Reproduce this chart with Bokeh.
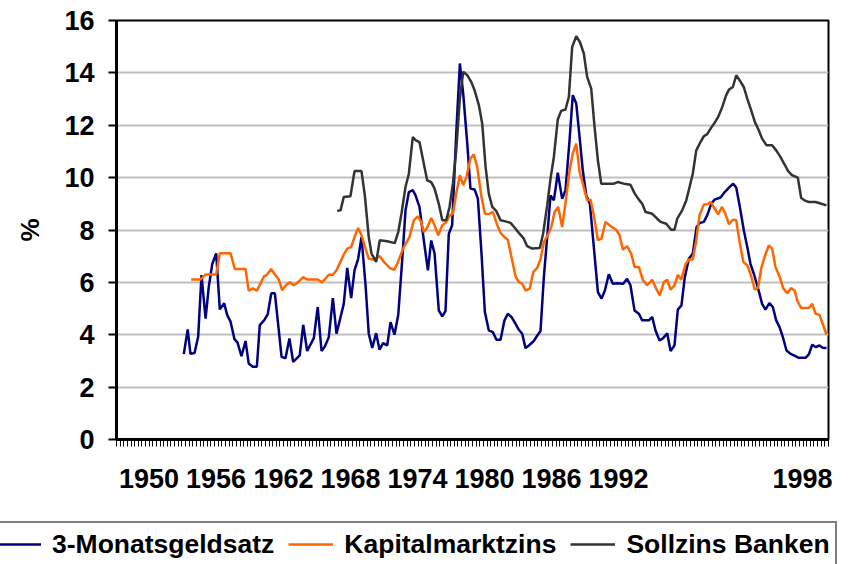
from bokeh.plotting import figure
from bokeh.models import Legend, LegendItem, FixedTicker, Range1d
from bokeh.embed import file_html
from bokeh.resources import INLINE

# ---------------- data ----------------
geld_jahr = [1954.63, 1954.9, 1955.09, 1955.37, 1955.62, 1955.85, 1956.13, 1956.35, 1956.59, 1956.86,
             1957.11, 1957.41, 1957.62, 1957.85, 1958.12, 1958.33, 1958.6, 1958.88, 1959.1, 1959.38,
             1959.66, 1959.86, 1960.17, 1960.41, 1960.65, 1960.9, 1961.36, 1961.63, 1961.9, 1962.16,
             1962.61, 1962.85, 1963.12, 1963.58, 1963.85, 1964.11, 1964.34, 1964.61, 1964.89, 1965.14,
             1965.64, 1965.88, 1966.15, 1966.38, 1966.63, 1966.86, 1967.14, 1967.36, 1967.6, 1967.87,
             1968.1, 1968.35, 1968.63, 1968.86, 1969.13, 1969.39, 1969.66, 1969.89, 1970.12, 1970.39,
             1970.58, 1970.85, 1971.15, 1971.43, 1971.66, 1971.89, 1972.18, 1972.42, 1972.64, 1972.87,
             1973.1, 1973.38, 1973.63, 1973.86, 1974.14, 1974.36, 1974.64, 1974.87, 1975.12, 1975.35,
             1975.62, 1975.9, 1976.15, 1976.43, 1976.7, 1976.93, 1977.18, 1977.46, 1977.69, 1977.92,
             1978.15, 1978.38, 1978.72, 1978.96, 1979.18, 1979.41, 1979.64, 1979.87, 1980.1, 1980.37,
             1980.67, 1980.9, 1981.18, 1981.4, 1981.64, 1981.87, 1982.09, 1982.33, 1982.58, 1982.85,
             1983.13, 1983.38, 1983.61, 1983.88, 1984.16, 1984.46, 1984.87, 1985.14, 1985.37, 1985.65,
             1985.95, 1986.18, 1986.64, 1986.87, 1987.09, 1987.37, 1987.62, 1987.9, 1988.13, 1988.4,
             1988.63, 1988.88, 1989.11, 1989.39, 1989.66, 1989.92, 1990.14, 1990.42, 1990.65, 1990.93,
             1991.16, 1991.57, 1991.86, 1992.15, 1992.44, 1992.65, 1992.9, 1993.17, 1993.41, 1993.63,
             1993.86, 1994.09, 1994.25, 1994.43, 1994.66, 1994.93, 1995.17, 1995.4, 1995.63, 1995.86,
             1996.11, 1996.39, 1996.62, 1996.96, 1997.42, 1997.65, 1997.88, 1998.11, 1998.38, 1998.6,
             1998.86]
geld_satz = [3.26, 4.2, 3.27, 3.3, 3.92, 6.28, 4.62, 5.83, 6.7, 7.11,
             4.97, 5.2, 4.75, 4.5, 3.83, 3.7, 3.18, 3.76, 2.9, 2.78,
             2.78, 4.37, 4.56, 4.79, 5.58, 5.58, 3.16, 3.1, 3.86, 2.96,
             3.21, 4.38, 3.38, 3.87, 5.06, 3.38, 3.55, 3.91, 5.4, 4.04,
             5.18, 6.55, 5.4, 6.46, 6.9, 7.73, 5.89, 4.04, 3.5, 4.06,
             3.43, 3.68, 3.59, 4.48, 4.0, 4.76, 6.84, 8.75, 9.45, 9.52,
             9.32, 8.88, 7.6, 6.46, 7.6, 7.1, 4.93, 4.7, 4.9, 7.86,
             8.18, 11.68, 14.36, 13.21, 11.3, 9.58, 9.55, 9.2, 7.1, 4.87,
             4.17, 4.1, 3.81, 3.81, 4.55, 4.8, 4.68, 4.42, 4.19, 4.04,
             3.49, 3.59, 3.76, 3.97, 4.14, 6.2, 7.73, 9.32, 9.13, 10.19,
             9.19, 9.52, 11.43, 13.15, 12.83, 11.55, 10.28, 9.32, 9.0, 7.35,
             5.63, 5.38, 5.69, 6.31, 5.95, 5.97, 5.95, 6.14, 5.89, 4.93,
             4.8, 4.55, 4.55, 4.68, 4.17, 3.78, 3.87, 4.06, 3.38, 3.59,
             4.96, 5.12, 6.2, 6.9, 7.1, 8.11, 8.27, 8.31, 8.56, 9.0,
             9.16, 9.24, 9.45, 9.62, 9.77, 9.62, 8.88, 7.99, 7.35, 6.71,
             6.33, 5.89, 5.57, 5.18, 4.96, 5.21, 5.06, 4.55, 4.29, 3.91,
             3.4, 3.27, 3.21, 3.12, 3.12, 3.25, 3.62, 3.53, 3.59, 3.5,
             3.49]

kap_jahr = [1955.14, 1955.78, 1956.13, 1956.86, 1957.11, 1957.85, 1958.14, 1958.88, 1959.1, 1959.38,
            1959.66, 1960.14, 1960.37, 1960.64, 1960.9, 1961.17, 1961.4, 1961.68, 1961.93, 1962.2,
            1962.48, 1962.85, 1963.12, 1963.85, 1964.16, 1964.61, 1964.89, 1965.14, 1965.64, 1965.88,
            1966.15, 1966.38, 1966.63, 1966.86, 1967.14, 1967.36, 1967.71, 1968.12, 1968.4, 1968.81,
            1969.13, 1969.32, 1969.77, 1970.16, 1970.46, 1970.74, 1970.97, 1971.15, 1971.38, 1971.66,
            1971.89, 1972.14, 1972.42, 1972.69, 1972.94, 1973.15, 1973.38, 1973.63, 1973.86, 1974.09,
            1974.36, 1974.59, 1974.82, 1975.12, 1975.35, 1975.62, 1975.9, 1976.15, 1976.43, 1976.7,
            1976.93, 1977.18, 1977.46, 1977.69, 1977.92, 1978.15, 1978.44, 1978.68, 1978.96, 1979.18,
            1979.41, 1979.68, 1979.92, 1980.15, 1980.4, 1980.67, 1980.94, 1981.18, 1981.4, 1981.64,
            1981.87, 1982.09, 1982.39, 1982.62, 1982.85, 1983.13, 1983.38, 1983.65, 1983.93, 1984.39,
            1984.62, 1984.85, 1985.14, 1985.42, 1985.65, 1985.95, 1986.23, 1986.52, 1986.87, 1987.14,
            1987.39, 1987.67, 1987.9, 1988.13, 1988.4, 1988.63, 1988.86, 1989.16, 1989.39, 1989.66,
            1989.9, 1990.12, 1990.42, 1990.65, 1990.9, 1991.16, 1991.41, 1991.66, 1991.88, 1992.15,
            1992.42, 1992.65, 1992.88, 1993.14, 1993.41, 1993.63, 1993.93, 1994.16, 1994.36, 1994.61,
            1994.89, 1995.12, 1995.35, 1995.65, 1995.88, 1996.16, 1996.43, 1996.66, 1996.89, 1997.12,
            1997.65, 1997.88, 1998.11, 1998.38, 1998.6, 1998.86]
kap_zins = [6.11, 6.11, 6.3, 6.3, 7.11, 7.11, 6.51, 6.51, 5.68, 5.77,
            5.68, 6.22, 6.3, 6.51, 6.3, 6.11, 5.7, 5.9, 6.0, 5.89,
            6.0, 6.2, 6.11, 6.11, 6.0, 6.29, 6.29, 6.46, 7.06, 7.29,
            7.35, 7.73, 8.08, 7.8, 7.29, 6.9, 6.87, 7.0, 6.78, 6.55,
            6.48, 6.71, 7.35, 7.73, 8.37, 8.52, 8.3, 7.92, 8.09, 8.46,
            8.18, 7.8, 8.18, 8.3, 8.56, 8.62, 9.39, 10.09, 9.71, 10.03,
            10.73, 10.89, 10.41, 9.26, 8.62, 8.6, 8.69, 8.27, 7.89, 7.73,
            7.63, 6.97, 6.23, 6.01, 5.95, 5.69, 5.76, 6.39, 6.56, 6.9,
            7.54, 7.8, 8.11, 8.69, 8.88, 8.11, 9.2, 10.28, 10.92, 11.3,
            10.22, 9.77, 9.13, 9.16, 8.56, 7.61, 7.67, 8.31, 8.18, 8.01,
            7.8, 7.25, 7.38, 7.1, 6.59, 6.59, 6.08, 5.89, 6.1, 5.76,
            5.5, 6.01, 6.1, 5.72, 5.89, 6.29, 6.1, 6.69, 6.87, 6.87,
            7.61, 8.56, 8.97, 8.98, 9.07, 8.82, 8.6, 8.88, 8.65, 8.22,
            8.39, 8.37, 7.54, 6.78, 6.65, 6.33, 5.72, 5.8, 6.52, 6.99,
            7.41, 7.29, 6.59, 6.2, 5.78, 5.59, 5.78, 5.69, 5.25, 5.02,
            5.02, 5.18, 4.8, 4.76, 4.42, 4.01]

soll_jahr = [1965.19, 1965.42, 1965.64, 1966.1, 1966.38, 1966.86, 1967.09, 1967.36, 1967.55, 1967.87,
             1968.12, 1968.63, 1969.15, 1969.39, 1969.61, 1969.89, 1970.12, 1970.39, 1970.58, 1970.85,
             1971.15, 1971.38, 1971.66, 1971.89, 1972.18, 1972.42, 1972.69, 1972.92, 1973.15, 1973.38,
             1973.63, 1973.86, 1974.14, 1974.41, 1974.64, 1974.94, 1975.17, 1975.4, 1975.62, 1975.86,
             1976.13, 1976.43, 1976.77, 1977.12, 1977.46, 1977.69, 1978.03, 1978.26, 1978.6, 1979.13,
             1979.36, 1979.64, 1979.87, 1980.1, 1980.37, 1980.6, 1980.9, 1981.13, 1981.36, 1981.64,
             1981.89, 1982.16, 1982.39, 1982.67, 1982.9, 1983.13, 1983.36, 1983.88, 1984.23, 1984.5,
             1984.91, 1985.37, 1985.67, 1985.95, 1986.18, 1986.41, 1986.87, 1987.21, 1987.44, 1987.83,
             1988.17, 1988.4, 1988.59, 1988.93, 1989.21, 1989.44, 1989.66, 1989.9, 1990.19, 1990.42,
             1990.65, 1990.93, 1991.16, 1991.41, 1991.69, 1991.96, 1992.15, 1992.42, 1992.65, 1992.88,
             1993.17, 1993.41, 1993.68, 1993.93, 1994.2, 1994.43, 1994.73, 1995.12, 1995.4, 1995.69,
             1995.97, 1996.22, 1996.5, 1996.89, 1997.12, 1997.42, 1997.65, 1998.11, 1998.45, 1998.86]
soll_zins = [8.73, 8.75, 9.26, 9.29, 10.25, 10.25, 9.32, 7.73, 7.1, 6.78,
             7.61, 7.57, 7.5, 7.92, 8.62, 9.64, 10.15, 11.55, 11.43, 11.36,
             10.53, 9.9, 9.83, 9.58, 9.0, 8.37, 8.37, 8.88, 9.77, 11.04,
             13.02, 14.04, 13.91, 13.66, 13.34, 12.76, 12.06, 10.41, 9.39, 8.88,
             8.73, 8.37, 8.33, 8.27, 8.05, 7.89, 7.67, 7.38, 7.29, 7.31,
             7.86, 8.94, 9.96, 10.79, 12.22, 12.55, 12.6, 13.08, 14.99, 15.4,
             15.18, 14.74, 13.85, 13.4, 11.94, 10.66, 9.77, 9.77, 9.77, 9.83,
             9.77, 9.73, 9.39, 9.16, 9.0, 8.69, 8.62, 8.43, 8.31, 8.24,
             8.01, 8.01, 8.43, 8.75, 9.13, 9.64, 10.15, 11.04, 11.36, 11.58,
             11.66, 11.91, 12.09, 12.32, 12.7, 13.15, 13.36, 13.46, 13.91, 13.72,
             13.46, 13.02, 12.57, 12.13, 11.81, 11.49, 11.24, 11.24, 11.04, 10.79,
             10.51, 10.25, 10.09, 10.0, 9.22, 9.11, 9.07, 9.07, 9.01, 8.94]

serien = ["3-Monatsgeldsatz", "Kapitalmarktzins", "Sollzins Banken"]
farben = ["#000080", "#FF6600", "#333333"]
x_labels = ["1950", "1956", "1962", "1968", "1974", "1980", "1986", "1992", "1998"]
y_ticks = [0, 2, 4, 6, 8, 10, 12, 14, 16]

# ---------------- layout / style ----------------
FONT = "Liberation Sans"
label_pos = [1952.24, 1956.85, 1961.49, 1966.10, 1970.72, 1975.33, 1979.94, 1984.55, 1997.21]
quarter_ticks = [1950 + k * 0.25 for k in range(197)]

p = figure(width=857, height=515, output_backend="svg", toolbar_location=None,
           x_range=Range1d(1950, 1999), y_range=Range1d(0, 16),
           min_border_left=116, min_border_right=29, min_border_top=20,
           min_border_bottom=76, background_fill_color="white",
           border_fill_color="white")

p.outline_line_color = "black"
p.outline_line_width = 2

p.xgrid.visible = False
p.ygrid.ticker = FixedTicker(ticks=y_ticks)
p.ygrid.grid_line_color = "#C0C0C0"
p.ygrid.grid_line_width = 2

p.yaxis.ticker = FixedTicker(ticks=y_ticks)
p.yaxis.axis_line_width = 3
p.yaxis.axis_line_color = "black"
p.yaxis.major_tick_out = 8
p.yaxis.major_tick_in = 0
p.yaxis.major_tick_line_width = 2
p.yaxis.major_tick_line_color = "black"
p.yaxis.minor_tick_line_color = None
p.yaxis.major_label_text_font = FONT
p.yaxis.major_label_text_font_style = "bold"
p.yaxis.major_label_text_font_size = "27px"
p.yaxis.major_label_text_color = "black"
p.yaxis.major_label_standoff = 14
p.yaxis.axis_label = "%"
p.yaxis.axis_label_text_font = FONT
p.yaxis.axis_label_text_font_style = "bold"
p.yaxis.axis_label_text_font_size = "26px"
p.yaxis.axis_label_text_color = "black"
p.yaxis.axis_label_standoff = 16

p.xaxis.ticker = FixedTicker(ticks=label_pos, minor_ticks=quarter_ticks)
p.xaxis.major_label_overrides = {pos: lab for pos, lab in zip(label_pos, x_labels)}
p.xaxis.axis_line_width = 3
p.xaxis.axis_line_color = "black"
p.xaxis.major_tick_line_color = None
p.xaxis.major_tick_out = 8
p.xaxis.major_tick_in = 0
p.xaxis.minor_tick_line_color = "black"
p.xaxis.minor_tick_line_width = 1
p.xaxis.minor_tick_out = 7
p.xaxis.minor_tick_in = 0
p.xaxis.major_label_text_font = FONT
p.xaxis.major_label_text_font_style = "bold"
p.xaxis.major_label_text_font_size = "27px"
p.xaxis.major_label_text_color = "black"
p.xaxis.major_label_standoff = 21

p.line(geld_jahr, geld_satz, line_color=farben[0], line_width=2.5)
p.line(kap_jahr, kap_zins, line_color=farben[1], line_width=2.5)
p.line(soll_jahr, soll_zins, line_color=farben[2], line_width=2.5)

# legend strip below the chart (own root, so its frame spans the full width)
q = figure(width=857, height=49, output_backend="svg", toolbar_location=None,
           x_range=Range1d(0, 1), y_range=Range1d(0, 1),
           x_axis_location=None, y_axis_location=None,
           min_border=0, outline_line_color=None,
           background_fill_color="white", border_fill_color="white")
q.xgrid.visible = False
q.ygrid.visible = False
q1 = q.line(geld_jahr, geld_satz, line_color=farben[0], line_width=2.5)
q2 = q.line(kap_jahr, kap_zins, line_color=farben[1], line_width=2.5)
q3 = q.line(soll_jahr, soll_zins, line_color=farben[2], line_width=2.5)

legend = Legend(items=[LegendItem(label=serien[0], renderers=[q1]),
                       LegendItem(label=serien[1], renderers=[q2]),
                       LegendItem(label=serien[2], renderers=[q3])],
                orientation="horizontal", location=(-11, -3),
                label_text_font=FONT, label_text_font_style="bold",
                label_text_font_size="26.5px", label_text_color="black",
                glyph_width=45, glyph_height=20,
                label_height=32, label_standoff=11,
                spacing=14, padding=5, margin=0,
                border_line_color="black", border_line_width=2,
                background_fill_color="white", background_fill_alpha=1.0)
q.add_layout(legend)

open("out.html", "w").write(file_html([p, q], INLINE))
